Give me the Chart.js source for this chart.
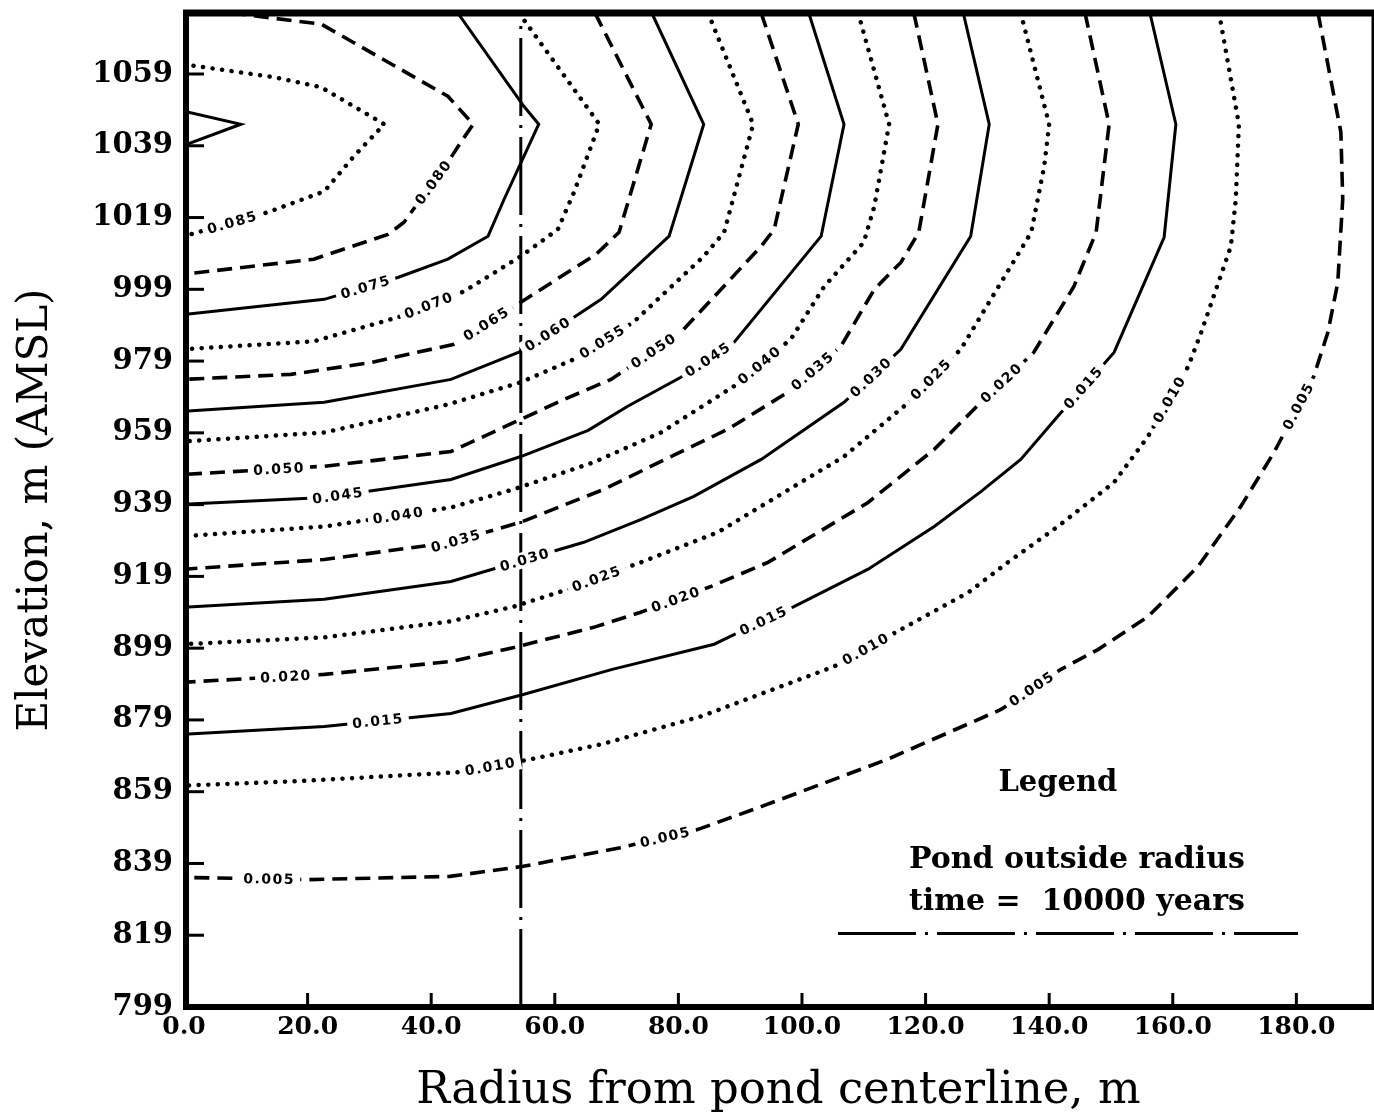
<!DOCTYPE html>
<html><head><meta charset="utf-8">
<script src="https://cdn.jsdelivr.net/npm/chart.js@4.4.1/dist/chart.umd.min.js"></script>
<style>html,body{margin:0;padding:0;background:#fff;overflow:hidden}canvas{display:block}</style>
</head><body>
<canvas id="c" width="1374" height="1115"></canvas>
<script>
// ---- axis ticks ----
const xTickValues = [0, 20, 40, 60, 80, 100, 120, 140, 160, 180];
const xTickLabels = ['0.0', '20.0', '40.0', '60.0', '80.0', '100.0', '120.0', '140.0', '160.0', '180.0'];
const yTickValues = [799, 819, 839, 859, 879, 899, 919, 939, 959, 979, 999, 1019, 1039, 1059];
const yTickLabels = ['799', '819', '839', '859', '879', '899', '919', '939', '959', '979', '999', '1019', '1039', '1059'];
const xMin = 0, xMax = 192.4, yMin = 799, yMax = 1076;

// ---- pond outside radius ----
const pondRadius = 54.5;
const pondLineV = [799, 1074];

// ---- contour lines (radius m, elevation m) ----
const r090 = [0, 9.2, 0];
const v090 = [1048.6, 1045.0, 1039.1];
const r085 = [0, 14.6, 22.2, 32.4, 27.5, 22.7, 13.6, 0];
const v085 = [1061.7, 1058.1, 1055.3, 1045.0, 1036.1, 1026.3, 1020.5, 1013.8];
const r080 = [7.6, 22.2, 42.7, 46.8, 44.8, 42.7, 38.3, 35.6, 33.0, 21.0, 0];
const v080 = [1076.0, 1072.9, 1052.8, 1045.0, 1040.0, 1034.4, 1024.1, 1017.7, 1014.3, 1007.4, 1003.2];
const r075 = [44.3, 55.0, 57.4, 51.8, 49.2, 42.7, 34.6, 22.7, 0];
const v075 = [1076.0, 1050.0, 1045.0, 1024.1, 1013.8, 1007.4, 1002.3, 996.2, 992.0];
const r070 = [54.2, 67.2, 63.1, 60.5, 54.5, 45.3, 34.6, 21.0, 0];
const v070 = [1076.0, 1045.0, 1026.0, 1015.7, 1008.2, 998.4, 991.2, 984.5, 982.3];
const r065 = [66.5, 75.6, 70.4, 66.7, 54.5, 43.7, 30.3, 17.3, 0];
const v065 = [1076.0, 1045.0, 1014.9, 1008.8, 995.4, 983.7, 978.6, 975.3, 973.9];
const r060 = [75.7, 84.1, 78.5, 67.5, 63.1, 54.5, 43.2, 22.7, 0];
const v060 = [1076.0, 1045.0, 1013.8, 996.2, 991.2, 981.7, 973.9, 967.5, 965.0];
const r055 = [84.8, 92.1, 87.4, 84.1, 72.7, 63.1, 54.5, 42.7, 22.7, 0];
const v055 = [1076.0, 1045.0, 1014.9, 1008.2, 989.8, 979.5, 973.1, 966.9, 959.1, 956.6];
const r050 = [93.4, 99.4, 95.5, 93.4, 80.4, 69.1, 61.5, 53.4, 43.2, 22.7, 0];
const v050 = [1076.0, 1045.0, 1015.7, 1011.0, 987.0, 973.9, 968.3, 961.9, 953.8, 949.7, 947.4];
const r045 = [101.1, 106.8, 103.1, 89.0, 80.4, 71.8, 65.4, 54.5, 43.2, 22.7, 0];
const v045 = [1076.0, 1045.0, 1013.8, 984.2, 974.5, 966.4, 959.7, 952.4, 946.0, 941.0, 939.1];
const r040 = [109.1, 114.1, 111.7, 110.0, 103.6, 98.2, 89.0, 77.2, 66.3, 53.4, 43.2, 22.7, 0];
const v040 = [1076.0, 1045.0, 1022.1, 1012.1, 999.8, 985.1, 972.0, 959.1, 950.8, 943.3, 938.2, 932.9, 930.2];
const r035 = [118.1, 122.0, 118.9, 116.0, 111.7, 106.3, 97.7, 88.0, 75.6, 68.0, 54.5, 43.2, 22.7, 0];
const v035 = [1076.0, 1045.0, 1014.9, 1006.5, 999.0, 983.1, 970.3, 960.0, 949.7, 943.3, 934.1, 928.5, 923.7, 921.0];
const r030 = [126.1, 130.3, 127.3, 116.0, 106.8, 93.4, 82.5, 74.0, 64.7, 43.2, 22.7, 0];
const v030 = [1076.0, 1045.0, 1013.8, 982.3, 967.5, 951.6, 941.3, 934.9, 928.5, 917.6, 912.6, 910.4];
const r025 = [135.4, 140.0, 139.2, 137.1, 132.2, 125.7, 116.5, 106.8, 99.8, 86.4, 73.9, 62.1, 53.4, 43.2, 22.7, 0];
const v025 = [1076.0, 1045.0, 1033.3, 1014.9, 1000.9, 982.3, 966.4, 952.4, 945.2, 931.3, 922.9, 915.4, 910.6, 906.5, 902.0, 900.1];
const r020 = [145.8, 149.7, 147.6, 144.0, 137.5, 129.4, 121.4, 110.7, 94.5, 85.3, 73.9, 66.3, 53.4, 43.2, 22.7, 0];
const v020 = [1076.0, 1045.0, 1014.9, 999.8, 981.4, 968.3, 954.4, 939.6, 922.9, 916.2, 909.0, 904.8, 899.2, 895.3, 891.7, 889.5];
const r015 = [156.3, 160.5, 158.6, 150.5, 141.4, 135.4, 129.0, 121.4, 110.7, 98.7, 89.0, 85.8, 69.3, 54.9, 43.2, 22.7, 0];
const v015 = [1076.0, 1045.0, 1013.5, 981.4, 963.6, 951.6, 942.7, 932.9, 921.0, 910.6, 902.8, 900.1, 893.1, 886.1, 880.8, 877.2, 875.0];
const r010 = [167.5, 170.7, 170.2, 169.4, 164.6, 162.5, 156.0, 150.5, 141.4, 133.3, 126.9, 116.0, 105.2, 83.7, 67.5, 56.0, 44.3, 18.1, 0];
const v010 = [1076.0, 1045.0, 1024.1, 1011.0, 987.0, 977.5, 958.0, 945.2, 932.9, 922.9, 914.5, 904.2, 893.9, 880.0, 872.2, 868.0, 864.4, 861.9, 860.7];
const r005 = [183.5, 187.2, 187.5, 186.7, 185.1, 182.8, 176.4, 171.0, 164.1, 156.0, 147.9, 141.9, 132.2, 113.8, 93.5, 83.2, 70.6, 54.9, 43.0, 20.1, 0];
const v005 = [1076.0, 1042.8, 1024.1, 1000.9, 987.0, 974.7, 953.6, 938.5, 921.8, 907.8, 898.6, 893.1, 881.9, 868.0, 854.9, 848.5, 843.4, 838.2, 835.4, 834.5, 835.1];

const contourLevels = ['0.090','0.085','0.080','0.075','0.070','0.065','0.060','0.055','0.050','0.045','0.040','0.035','0.030','0.025','0.020','0.015','0.010','0.005'];
const contourR = [r090, r085, r080, r075, r070, r065, r060, r055, r050, r045, r040, r035, r030, r025, r020, r015, r010, r005];
const contourV = [v090, v085, v080, v075, v070, v065, v060, v055, v050, v045, v040, v035, v030, v025, v020, v015, v010, v005];

// ---- contour value labels ----
const labelLevels = ['0.085','0.080','0.075','0.070','0.065','0.060','0.055','0.050','0.050','0.045','0.045','0.040','0.040','0.035','0.035','0.030','0.030','0.025','0.025','0.020','0.020','0.020','0.015','0.015','0.015','0.010','0.010','0.010','0.005','0.005','0.005','0.005'];
const labelR = [8.1, 40.8, 29.4, 40.0, 49.2, 59.1, 68.3, 15.4, 76.4, 24.9, 85.0, 34.8, 93.4, 44.3, 101.8, 55.3, 111.5, 67.0, 121.2, 16.5, 79.6, 132.5, 31.4, 93.7, 145.5, 49.7, 110.4, 160.0, 13.8, 78.0, 137.5, 180.4];
const labelV = [1016.0, 1028.3, 999.6, 992.9, 988.7, 985.9, 982.8, 948.8, 980.9, 941.8, 978.9, 934.9, 977.3, 927.4, 976.1, 922.9, 973.9, 917.3, 973.4, 891.1, 912.6, 972.5, 878.6, 907.0, 971.7, 864.9, 898.6, 967.8, 834.8, 845.7, 886.9, 966.4];

// ---- styles ----
const lineStyles = [
  { borderDash: [], borderWidth: 3, borderCapStyle: 'butt' },          // solid
  { borderDash: [0.1, 9.5], borderWidth: 4.5, borderCapStyle: 'round' }, // dotted
  { borderDash: [15, 8], borderWidth: 3.6, borderCapStyle: 'butt' }    // dashed
];
const pondDash = [78, 9, 3, 9];

const datasets = contourLevels.map((lev, i) => {
  const st = lineStyles[i % 3];
  return {
    level: lev,
    data: contourR[i].map((r, k) => ({ x: r, y: contourV[i][k] })),
    showLine: true, pointRadius: 0, tension: 0,
    borderColor: '#000', backgroundColor: '#000',
    borderWidth: st.borderWidth, borderDash: st.borderDash, borderCapStyle: st.borderCapStyle
  };
});
datasets.push({
  level: 'pond',
  data: pondLineV.map(v => ({ x: pondRadius, y: v })),
  showLine: true, pointRadius: 0, borderColor: '#000', borderWidth: 3, borderDash: pondDash
});

const serif = "'DejaVu Serif', serif";

const labelPlugin = {
  id: 'contourLabels',
  afterDatasetsDraw(chart) {
    const ctx = chart.ctx, xs = chart.scales.x, ys = chart.scales.y;
    labelLevels.forEach((lev, i) => {
      const ds = chart.data.datasets.find(d => d.level === lev);
      const pts = ds.data.map(p => [xs.getPixelForValue(p.x), ys.getPixelForValue(p.y)]);
      const px = xs.getPixelForValue(labelR[i]), py = ys.getPixelForValue(labelV[i]);
      let best = null;
      for (let k = 0; k < pts.length - 1; k++) {
        const [x1, y1] = pts[k], [x2, y2] = pts[k + 1];
        const dx = x2 - x1, dy = y2 - y1, L2 = dx * dx + dy * dy;
        if (!L2) continue;
        let t = ((px - x1) * dx + (py - y1) * dy) / L2;
        t = Math.max(0, Math.min(1, t));
        const qx = x1 + t * dx, qy = y1 + t * dy, d = (qx - px) ** 2 + (qy - py) ** 2;
        if (!best || d < best.d) best = { d, qx, qy, a: Math.atan2(dy, dx) };
      }
      let a = best.a;
      if (a > Math.PI / 2) a -= Math.PI;
      if (a < -Math.PI / 2) a += Math.PI;
      ctx.save();
      ctx.font = "bold 14px 'DejaVu Sans', sans-serif";
      try { ctx.letterSpacing = '1.5px'; } catch (e) {}
      ctx.translate(best.qx, best.qy);
      ctx.rotate(a);
      const w = ctx.measureText(lev).width;
      ctx.fillStyle = '#fff';
      ctx.fillRect(-w / 2 - 5, -8, w + 10, 16);
      ctx.fillStyle = '#000';
      ctx.textAlign = 'center';
      ctx.textBaseline = 'middle';
      ctx.fillText(lev, 0, 1);
      ctx.restore();
    });
  }
};

const framePlugin = {
  id: 'frame',
  afterDraw(chart) {
    const ctx = chart.ctx, ca = chart.chartArea, xs = chart.scales.x, ys = chart.scales.y;
    ctx.save();
    ctx.strokeStyle = '#000';
    ctx.lineCap = 'butt';
    // inward tick marks
    ctx.lineWidth = 3;
    yTickValues.forEach(v => {
      if (v === yMin) return;
      const y = ys.getPixelForValue(v);
      ctx.beginPath(); ctx.moveTo(ca.left, y); ctx.lineTo(ca.left + 20, y); ctx.stroke();
    });
    xTickValues.forEach(v => {
      if (v === xMin) return;
      const x = xs.getPixelForValue(v);
      ctx.beginPath(); ctx.moveTo(x, ca.bottom); ctx.lineTo(x, ca.bottom - 14); ctx.stroke();
    });
    // frame
    ctx.lineWidth = 6;
    ctx.beginPath(); ctx.moveTo(ca.left + 2, ca.top - 3); ctx.lineTo(ca.left + 2, ca.bottom + 3); ctx.stroke();
    ctx.beginPath(); ctx.moveTo(ca.left - 1, ca.bottom); ctx.lineTo(ca.right + 1, ca.bottom); ctx.stroke();
    ctx.lineWidth = 7;
    ctx.beginPath(); ctx.moveTo(ca.left - 1, ca.top); ctx.lineTo(ca.right + 1, ca.top); ctx.stroke();
    ctx.lineWidth = 3;
    ctx.beginPath(); ctx.moveTo(ca.right, ca.top); ctx.lineTo(ca.right, ca.bottom); ctx.stroke();

    // legend
    const W = ca.right - ca.left, H = ca.bottom - ca.top;
    ctx.fillStyle = '#000';
    ctx.textAlign = 'center';
    ctx.textBaseline = 'middle';
    ctx.font = "bold 29px " + serif;
    ctx.fillText('Legend', ca.left + 0.735 * W, ca.top + 0.775 * H);
    ctx.font = "bold 30px " + serif;
    ctx.fillText('Pond outside radius', ca.left + 0.751 * W, ca.top + 0.852 * H);
    ctx.fillText('time =  10000 years', ca.left + 0.751 * W, ca.top + 0.895 * H);
    ctx.lineWidth = 3;
    ctx.setLineDash(pondDash);
    const ly = ca.top + 0.926 * H;
    ctx.beginPath(); ctx.moveTo(ca.left + 0.55 * W, ly); ctx.lineTo(ca.left + 0.937 * W, ly); ctx.stroke();
    ctx.restore();
  }
};

new Chart(document.getElementById('c'), {
  type: 'scatter',
  data: { datasets },
  options: {
    responsive: false,
    animation: false,
    devicePixelRatio: 1,
    layout: { padding: { left: 0, right: 1, top: 13, bottom: 0 } },
    plugins: { legend: { display: false }, tooltip: { enabled: false } },
    elements: { point: { radius: 0 } },
    scales: {
      x: {
        type: 'linear', min: xMin, max: xMax,
        afterBuildTicks: s => { s.ticks = xTickValues.map(v => ({ value: v })); },
        afterFit: s => { s.height = 108; s.paddingLeft = 0; s.paddingRight = 0; },
        grid: { display: false, drawTicks: false },
        border: { display: false },
        ticks: {
          autoSkip: false, maxRotation: 0, padding: 5, color: '#000',
          font: { family: serif, size: 25, weight: 'bold' },
          callback: (v, i) => xTickLabels[i]
        },
        title: {
          display: true, text: 'Radius from pond centerline, m', color: '#000',
          font: { family: serif, size: 45, lineHeight: 1 }, padding: { top: 0, bottom: 1 }
        }
      },
      y: {
        type: 'linear', min: yMin, max: yMax,
        afterBuildTicks: s => { s.ticks = yTickValues.map(v => ({ value: v })); },
        afterFit: s => { s.width = 184; s.paddingTop = 0; s.paddingBottom = 0; },
        grid: { display: false, drawTicks: false },
        border: { display: false },
        ticks: {
          autoSkip: false, padding: 11, color: '#000',
          font: { family: serif, size: 29, weight: 'bold' },
          callback: (v, i) => yTickLabels[i]
        },
        title: {
          display: true, text: 'Elevation, m (AMSL)', color: '#000',
          font: { family: serif, size: 42, lineHeight: 1 }, padding: { top: 15, bottom: 0 }
        }
      }
    }
  },
  plugins: [labelPlugin, framePlugin]
});
</script>
</body></html>
